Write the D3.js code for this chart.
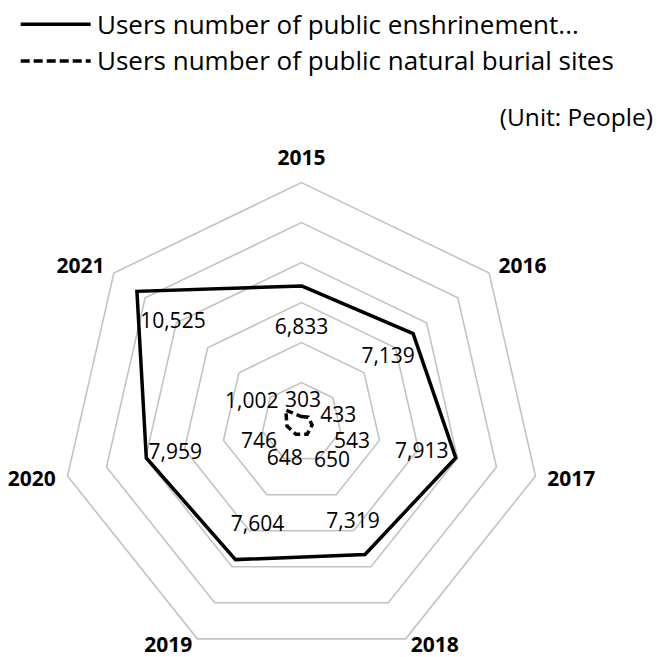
<!DOCTYPE html>
<html>
<head>
<meta charset="utf-8">
<script src="https://cdn.jsdelivr.net/npm/d3@7"></script>
<style>
  html, body { margin: 0; padding: 0; background: #fff; }
  svg { display: block; font-family: "Open Sans", "Noto Sans", sans-serif; }
</style>
</head>
<body>
<svg id="chart" width="659" height="657"></svg>
<script>
// ---- data ----
const categories = ["2015", "2016", "2017", "2018", "2019", "2020", "2021"];
const enshrinementUsers = [6833, 7139, 7913, 7319, 7604, 7959, 10525];
const naturalBurialUsers = [303, 433, 543, 650, 648, 746, 1002];
const ringTicks = [2000, 4000, 6000, 8000, 10000, 12000];
const seriesNames = ["Users number of public enshrinement...", "Users number of public natural burial sites"];
const unitLabel = "(Unit: People)";

// ---- layout ----
const W = 659, H = 657;
const cx = 301.5, cy = 422.6, R = 240;
// data label nudges (px) relative to each point
const solidLabelNudge = [[0, 40], [-25, 22], [-34, -7], [-12, -34], [22, -36], [29, -7], [36, 29]];
const dashLabelNudge = [[1.5, -17], [30, -3], [40, 15], [25, 25], [-11, 23], [-28, 15], [-34, -10]];

const svg = d3.select("#chart");
const r = d3.scaleLinear().domain([0, d3.max(ringTicks)]).range([0, R]);
const angle = d3.scalePoint().domain(categories.concat(["_end"])).range([0, 2 * Math.PI]);
const ang = c => angle(c) - Math.PI / 2;
const pt = (c, v) => [cx + r(v) * Math.cos(ang(c)), cy + r(v) * Math.sin(ang(c))];

const g = svg.append("g");

// grid rings
const ringLine = d3.line().curve(d3.curveLinearClosed);
g.selectAll("path.ring").data(ringTicks).join("path")
  .attr("class", "ring")
  .attr("d", t => ringLine(categories.map(c => pt(c, t))))
  .attr("fill", "none")
  .attr("stroke", "#c3c3c3")
  .attr("stroke-width", 1.6);

// category labels
g.selectAll("text.cat").data(categories).join("text")
  .attr("class", "cat")
  .each(function(c) {
    const a = ang(c), lr = R + 12;
    const cs = Math.cos(a), sn = Math.sin(a);
    let x = cx + lr * cs, y = cy + lr * sn;
    let anchor = Math.abs(cs) < 0.1 ? "middle" : (cs > 0 ? "start" : "end");
    if (Math.abs(cs) < 0.1 && sn < 0) y -= 13;
    if (sn > 0.8) y -= 5;
    d3.select(this).attr("x", x).attr("y", y).attr("dy", "0.36em").attr("text-anchor", anchor);
  })
  .attr("font-size", 21)
  .attr("font-weight", "bold")
  .attr("fill", "#000")
  .text(c => c);

// series
const series = [
  { name: seriesNames[0], values: enshrinementUsers, dash: null, nudge: solidLabelNudge },
  { name: seriesNames[1], values: naturalBurialUsers, dash: "7,4", nudge: dashLabelNudge }
];

series.forEach(s => {
  g.append("path")
    .attr("d", ringLine(categories.map((c, i) => pt(c, s.values[i]))))
    .attr("fill", "none")
    .attr("stroke", "#000")
    .attr("stroke-width", 3.5)
    .attr("stroke-linejoin", "miter")
    .attr("stroke-dasharray", s.dash);
});

const fmt = d3.format(",");
series.forEach(s => {
  g.selectAll(null).data(categories).join("text")
    .attr("x", (c, i) => pt(c, s.values[i])[0] + s.nudge[i][0])
    .attr("y", (c, i) => pt(c, s.values[i])[1] + s.nudge[i][1])
    .attr("dy", "0.36em")
    .attr("text-anchor", "middle")
    .attr("font-size", 21)
    .attr("fill", "#000")
    .text((c, i) => fmt(s.values[i]));
});

// legend
const leg = svg.append("g");
const legY = [24.3, 61];
series.forEach((s, i) => {
  leg.append("line")
    .attr("x1", 20.7).attr("x2", 90.7)
    .attr("y1", legY[i]).attr("y2", legY[i])
    .attr("stroke", "#000").attr("stroke-width", 3.5)
    .attr("stroke-dasharray", s.dash ? "9,4" : null);
  leg.append("text")
    .attr("x", 97).attr("y", legY[i]).attr("dy", "0.36em")
    .attr("font-size", 26)
    .attr("fill", "#000")
    .text(s.name);
});

svg.append("text")
  .attr("x", 653).attr("y", 117).attr("dy", "0.36em")
  .attr("text-anchor", "end")
  .attr("font-size", 24.5)
  .attr("fill", "#000")
  .text(unitLabel);
</script>
</body>
</html>
